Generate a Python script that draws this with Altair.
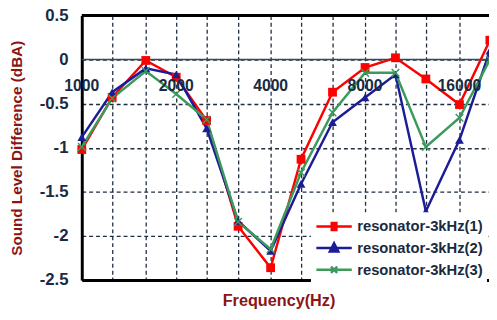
import altair as alt
import pandas as pd

freqs = [1000, 1250, 1600, 2000, 2500, 3150, 4000, 5000, 6300, 8000, 10000, 12500, 16000, 20000]
names = ["resonator-3kHz(1)", "resonator-3kHz(2)", "resonator-3kHz(3)"]
s1 = [-1.02, -0.43, -0.01, -0.20, -0.69, -1.89, -2.36, -1.13, -0.37, -0.09, 0.02, -0.22, -0.51, 0.22]
s2 = [-0.88, -0.37, -0.10, -0.17, -0.78, -1.83, -2.17, -1.41, -0.71, -0.43, -0.17, -1.72, -0.91, 0.10]
s3 = [-0.99, -0.44, -0.13, -0.39, -0.68, -1.84, -2.15, -1.28, -0.60, -0.15, -0.15, -0.99, -0.66, 0.00]
colors = ["#ff0000", "#1c1c96", "#3c9a5c"]
label_freqs = [1000, 2000, 4000, 8000, 16000]
label_texts = ["1000", "2000", "4000", "8000", "16000"]
y_ticks = [0.5, 0, -0.5, -1, -1.5, -2, -2.5]

rows = []
for name, vals in zip(names, [s1, s2, s3]):
    for f, v in zip(freqs, vals):
        rows.append({"freq": f, "value": v, "series": name})
df = pd.DataFrame(rows)

FONT = "Liberation Sans"
LABEL_COLOR = "#1a2a40"
TITLE_COLOR = "#8b1414"
GRID_COLOR = "#1f2d3f"

xscale = alt.Scale(type="log", domain=[1000, 19870], nice=False)
yscale = alt.Scale(domain=[-2.5, 0.5], nice=False, zero=False)
cscale = alt.Scale(domain=names, range=colors)

x_axis = alt.Axis(
    values=freqs[:-1], labels=False, ticks=False, grid=True,
    gridDash=[4, 3], gridColor=GRID_COLOR, gridWidth=1.3,
    domainColor="black", domainWidth=3,
    title="Frequency(Hz)", titleFont=FONT, titleFontWeight="bold",
    titleFontSize=16.5, titleColor=TITLE_COLOR, titleX=200, titleY=13,
    titleBaseline="top",
)
y_axis = alt.Axis(
    values=y_ticks, labelExpr="'' + datum.value", ticks=False, grid=True,
    gridDash=[4, 3], gridColor=GRID_COLOR, gridWidth=1.3,
    domainColor="black", domainWidth=3,
    labelFont=FONT, labelFontWeight="bold", labelFontSize=17,
    labelColor=LABEL_COLOR, labelPadding=14,
    title="Sound Level Difference (dBA)", titleFont=FONT, titleFontWeight="bold",
    titleFontSize=15.5, titleColor=TITLE_COLOR, titleX=-58,
)

# legend symbols: a line segment with the series marker, drawn with strokes only
legend_paths = [
    "M-1,0H3M0.6,-0.4H1.4M0.6,-0.2H1.4M0.6,0H1.4M0.6,0.2H1.4M0.6,0.4H1.4",
    "M-1,0H3M1,-0.55L1.48,0.4L0.52,0.4ZM0.87,-0.3H1.13M0.76,-0.1H1.24M0.66,0.1H1.34M0.58,0.28H1.42",
    "M-1,0H3M0.65,-0.35L1.35,0.35M0.65,0.35L1.35,-0.35",
]

leg = alt.Legend(
    orient="none", legendX=233, legendY=200,
    symbolSize=324, symbolStrokeWidth=2.5, symbolOpacity=1,
    labelFont=FONT, labelFontWeight="bold", labelFontSize=15,
    labelColor=LABEL_COLOR, fillColor="white", padding=4, rowPadding=2,
    labelOffset=22,
)

base = alt.Chart(df)

lines = base.mark_line(strokeWidth=2.5, clip=True).encode(
    x=alt.X("freq:Q", scale=xscale, axis=x_axis),
    y=alt.Y("value:Q", scale=yscale, axis=y_axis),
    color=alt.Color("series:N", scale=cscale, legend=leg, title=None),
)

shapes = ["square", "triangle-up", "M-1,-1L1,1M-1,1L1,-1"]
sizes = [80, 80, 60]
point_layers = []
for name, col, shp, sz in zip(names, colors, shapes, sizes):
    filled = shp != shapes[2]
    point_layers.append(
        base.transform_filter(alt.datum.series == name).mark_point(
            shape=shp, size=sz, filled=filled, color=col, opacity=1,
            strokeWidth=1.5,
        ).encode(x=alt.X("freq:Q", scale=xscale), y=alt.Y("value:Q", scale=yscale))
    )

legend_layer = base.mark_point(opacity=0, filled=False, clip=True).encode(
    x=alt.X("freq:Q", scale=xscale),
    y=alt.Y("value:Q", scale=yscale),
    color=alt.Color("series:N", scale=cscale, legend=leg, title=None),
    shape=alt.Shape("series:N", scale=alt.Scale(domain=names, range=legend_paths), legend=leg, title=None),
)

zero_rule = alt.Chart(pd.DataFrame({"y": [0]})).mark_rule(
    color="#34495e", strokeWidth=1.5
).encode(y=alt.Y("y:Q", scale=yscale))
top_rule = alt.Chart(pd.DataFrame({"y": [0.5]})).mark_rule(
    color="black", strokeWidth=3
).encode(y=alt.Y("y:Q", scale=yscale))

xlabels = alt.Chart(pd.DataFrame({"freq": label_freqs, "lab": label_texts})).mark_text(
    font=FONT, fontWeight="bold", fontSize=16, color=LABEL_COLOR, baseline="middle"
).encode(x=alt.X("freq:Q", scale=xscale), y=alt.datum(-0.3), text="lab:N")

chart = alt.layer(
    lines, zero_rule, top_rule, *point_layers, xlabels, legend_layer
).properties(
    width=414, height=269,
    autosize=alt.AutoSizeParams(type="none"),
    padding={"left": 75, "top": 5, "right": 0, "bottom": 38},
    background="white",
).configure_view(stroke=None)

chart.save("out.html", embed_options={"renderer": "svg", "actions": False})
